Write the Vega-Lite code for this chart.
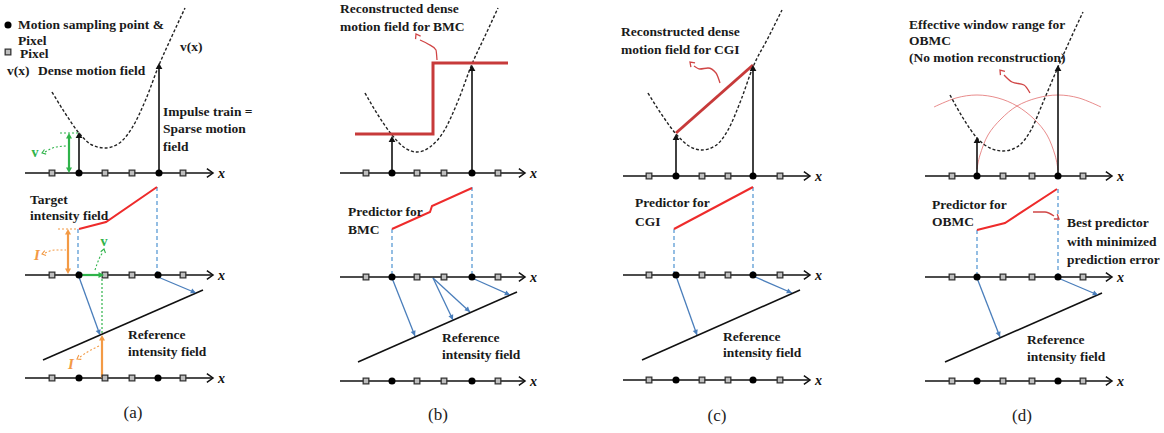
{
  "$schema": "https://vega.github.io/schema/vega-lite/v6.json",
  "width": 1164,
  "height": 433,
  "padding": 0,
  "autosize": {"type": "fit", "contains": "padding"},
  "background": "white",
  "config": {"view": {"stroke": null}},
  "datasets": {
    "curves": [
      {"panel": "a", "x": 52, "y": 92}, {"panel": "a", "x": 65, "y": 113}, {"panel": "a", "x": 79, "y": 133}, {"panel": "a", "x": 92, "y": 145}, {"panel": "a", "x": 105, "y": 148}, {"panel": "a", "x": 118, "y": 144}, {"panel": "a", "x": 132, "y": 128}, {"panel": "a", "x": 146, "y": 99}, {"panel": "a", "x": 159, "y": 65}, {"panel": "a", "x": 172, "y": 36}, {"panel": "a", "x": 185, "y": 8},
      {"panel": "b", "x": 365, "y": 93}, {"panel": "b", "x": 378, "y": 115}, {"panel": "b", "x": 392, "y": 135}, {"panel": "b", "x": 405, "y": 148}, {"panel": "b", "x": 417, "y": 152}, {"panel": "b", "x": 430, "y": 147}, {"panel": "b", "x": 444, "y": 131}, {"panel": "b", "x": 458, "y": 101}, {"panel": "b", "x": 472, "y": 64}, {"panel": "b", "x": 485, "y": 36}, {"panel": "b", "x": 498, "y": 8},
      {"panel": "c", "x": 648, "y": 93}, {"panel": "c", "x": 662, "y": 115}, {"panel": "c", "x": 676, "y": 134}, {"panel": "c", "x": 689, "y": 146}, {"panel": "c", "x": 702, "y": 150}, {"panel": "c", "x": 715, "y": 146}, {"panel": "c", "x": 728, "y": 130}, {"panel": "c", "x": 741, "y": 100}, {"panel": "c", "x": 753, "y": 67}, {"panel": "c", "x": 768, "y": 38}, {"panel": "c", "x": 782, "y": 10},
      {"panel": "d", "x": 950, "y": 95}, {"panel": "d", "x": 963, "y": 118}, {"panel": "d", "x": 977, "y": 138}, {"panel": "d", "x": 990, "y": 148}, {"panel": "d", "x": 1003, "y": 151}, {"panel": "d", "x": 1017, "y": 147}, {"panel": "d", "x": 1031, "y": 130}, {"panel": "d", "x": 1044, "y": 100}, {"panel": "d", "x": 1058, "y": 67}, {"panel": "d", "x": 1070, "y": 40}, {"panel": "d", "x": 1083, "y": 12}
    ],
    "arcs": [
      {"arc": "left", "x": 934, "y": 107}, {"arc": "left", "x": 956, "y": 98}, {"arc": "left", "x": 977, "y": 95}, {"arc": "left", "x": 998, "y": 98}, {"arc": "left", "x": 1017, "y": 106}, {"arc": "left", "x": 1034, "y": 119}, {"arc": "left", "x": 1047, "y": 135}, {"arc": "left", "x": 1055, "y": 155}, {"arc": "left", "x": 1058, "y": 170},
      {"arc": "right", "x": 977, "y": 169}, {"arc": "right", "x": 980, "y": 155}, {"arc": "right", "x": 988, "y": 135}, {"arc": "right", "x": 1001, "y": 119}, {"arc": "right", "x": 1017, "y": 106}, {"arc": "right", "x": 1037, "y": 98}, {"arc": "right", "x": 1058, "y": 95}, {"arc": "right", "x": 1079, "y": 98}, {"arc": "right", "x": 1101, "y": 107}
    ],
    "predictors": [
      {"panel": "a", "x": 79, "y": 229}, {"panel": "a", "x": 106, "y": 222}, {"panel": "a", "x": 157, "y": 187},
      {"panel": "b", "x": 392, "y": 229}, {"panel": "b", "x": 430, "y": 212}, {"panel": "b", "x": 432, "y": 206}, {"panel": "b", "x": 472, "y": 188},
      {"panel": "c", "x": 674, "y": 229}, {"panel": "c", "x": 753, "y": 187},
      {"panel": "d", "x": 977, "y": 230}, {"panel": "d", "x": 1005, "y": 223}, {"panel": "d", "x": 1057, "y": 189}
    ],
    "recon": [
      {"panel": "b", "x": 355, "y": 134}, {"panel": "b", "x": 433, "y": 134}, {"panel": "b", "x": 433, "y": 63}, {"panel": "b", "x": 508, "y": 63},
      {"panel": "c", "x": 676, "y": 133}, {"panel": "c", "x": 753, "y": 65}
    ],
    "segments": [
      {"kind": "axis", "x": 25, "y": 173, "x2": 213, "y2": 173}, {"kind": "axis", "x": 25, "y": 275, "x2": 213, "y2": 275}, {"kind": "axis", "x": 25, "y": 378, "x2": 213, "y2": 378},
      {"kind": "axis", "x": 340, "y": 173, "x2": 525, "y2": 173}, {"kind": "axis", "x": 340, "y": 277, "x2": 525, "y2": 277}, {"kind": "axis", "x": 340, "y": 381, "x2": 525, "y2": 381},
      {"kind": "axis", "x": 623, "y": 176, "x2": 810, "y2": 176}, {"kind": "axis", "x": 623, "y": 275, "x2": 810, "y2": 275}, {"kind": "axis", "x": 623, "y": 380, "x2": 810, "y2": 380},
      {"kind": "axis", "x": 925, "y": 176, "x2": 1112, "y2": 176}, {"kind": "axis", "x": 925, "y": 277, "x2": 1112, "y2": 277}, {"kind": "axis", "x": 925, "y": 381, "x2": 1112, "y2": 381},
      {"kind": "impulse", "x": 79, "y": 173, "x2": 79, "y2": 136}, {"kind": "impulse", "x": 159, "y": 173, "x2": 159, "y2": 67},
      {"kind": "impulse", "x": 392, "y": 173, "x2": 392, "y2": 140}, {"kind": "impulse", "x": 472, "y": 173, "x2": 472, "y2": 69},
      {"kind": "impulse", "x": 676, "y": 176, "x2": 676, "y2": 138}, {"kind": "impulse", "x": 753, "y": 176, "x2": 753, "y2": 69},
      {"kind": "impulse", "x": 977, "y": 176, "x2": 977, "y2": 141}, {"kind": "impulse", "x": 1058, "y": 176, "x2": 1058, "y2": 69},
      {"kind": "reference", "x": 43, "y": 360, "x2": 203, "y2": 290}, {"kind": "reference", "x": 358, "y": 362, "x2": 517, "y2": 292},
      {"kind": "reference", "x": 642, "y": 360, "x2": 800, "y2": 290}, {"kind": "reference", "x": 945, "y": 362, "x2": 1102, "y2": 293},
      {"kind": "projection", "x": 78, "y": 229, "x2": 78, "y2": 273}, {"kind": "projection", "x": 157, "y": 187, "x2": 157, "y2": 273},
      {"kind": "projection", "x": 392, "y": 229, "x2": 392, "y2": 275}, {"kind": "projection", "x": 472, "y": 187, "x2": 472, "y2": 275},
      {"kind": "projection", "x": 674, "y": 229, "x2": 674, "y2": 273}, {"kind": "projection", "x": 753, "y": 187, "x2": 753, "y2": 273},
      {"kind": "projection", "x": 977, "y": 230, "x2": 977, "y2": 275}, {"kind": "projection", "x": 1058, "y": 189, "x2": 1058, "y2": 275},
      {"kind": "warp", "x": 79, "y": 277, "x2": 100, "y2": 335}, {"kind": "warp", "x": 158, "y": 277, "x2": 196, "y2": 293},
      {"kind": "warp", "x": 392, "y": 278, "x2": 415, "y2": 336}, {"kind": "warp", "x": 433, "y": 278, "x2": 453, "y2": 320}, {"kind": "warp", "x": 433, "y": 278, "x2": 470, "y2": 312}, {"kind": "warp", "x": 472, "y": 278, "x2": 510, "y2": 295},
      {"kind": "warp", "x": 676, "y": 276, "x2": 697, "y2": 335}, {"kind": "warp", "x": 753, "y": 276, "x2": 792, "y2": 293},
      {"kind": "warp", "x": 977, "y": 278, "x2": 1000, "y2": 337}, {"kind": "warp", "x": 1058, "y": 278, "x2": 1098, "y2": 295},
      {"kind": "motion", "x": 69, "y": 136, "x2": 69, "y2": 170}, {"kind": "motion", "x": 79, "y": 275, "x2": 100, "y2": 275},
      {"kind": "motion-guide", "x": 60, "y": 133, "x2": 78, "y2": 133}, {"kind": "motion-guide", "x": 102, "y": 279, "x2": 102, "y2": 333},
      {"kind": "intensity", "x": 68, "y": 232, "x2": 68, "y2": 271}, {"kind": "intensity", "x": 102, "y": 378, "x2": 102, "y2": 339},
      {"kind": "intensity-guide", "x": 58, "y": 229, "x2": 77, "y2": 229}
    ],
    "callouts": [
      {"id": "nb", "kind": "note", "x": 420, "y": 40}, {"id": "nb", "kind": "note", "x": 428, "y": 44}, {"id": "nb", "kind": "note", "x": 436, "y": 50}, {"id": "nb", "kind": "note", "x": 437, "y": 60},
      {"id": "nc", "kind": "note", "x": 694, "y": 66}, {"id": "nc", "kind": "note", "x": 700, "y": 69}, {"id": "nc", "kind": "note", "x": 708, "y": 68}, {"id": "nc", "kind": "note", "x": 716, "y": 73}, {"id": "nc", "kind": "note", "x": 720, "y": 83},
      {"id": "nd1", "kind": "note", "x": 1004, "y": 75}, {"id": "nd1", "kind": "note", "x": 1012, "y": 82}, {"id": "nd1", "kind": "note", "x": 1024, "y": 85}, {"id": "nd1", "kind": "note", "x": 1030, "y": 93},
      {"id": "nd2", "kind": "note", "x": 1033, "y": 212}, {"id": "nd2", "kind": "note", "x": 1045, "y": 212}, {"id": "nd2", "kind": "note", "x": 1054, "y": 216},
      {"id": "g1", "kind": "motion-note", "x": 45, "y": 152}, {"id": "g1", "kind": "motion-note", "x": 56, "y": 147}, {"id": "g1", "kind": "motion-note", "x": 67, "y": 146},
      {"id": "g2", "kind": "motion-note", "x": 95, "y": 270}, {"id": "g2", "kind": "motion-note", "x": 99, "y": 259}, {"id": "g2", "kind": "motion-note", "x": 103, "y": 252},
      {"id": "o1", "kind": "intensity-note", "x": 45, "y": 253}, {"id": "o1", "kind": "intensity-note", "x": 55, "y": 250}, {"id": "o1", "kind": "intensity-note", "x": 66, "y": 250},
      {"id": "o2", "kind": "intensity-note", "x": 80, "y": 357}, {"id": "o2", "kind": "intensity-note", "x": 89, "y": 351}, {"id": "o2", "kind": "intensity-note", "x": 99, "y": 346}
    ],
    "heads": [
      {"kind": "axis", "x": 213, "y": 173, "deg": 0}, {"kind": "axis", "x": 213, "y": 275, "deg": 0}, {"kind": "axis", "x": 213, "y": 378, "deg": 0},
      {"kind": "axis", "x": 525, "y": 173, "deg": 0}, {"kind": "axis", "x": 525, "y": 277, "deg": 0}, {"kind": "axis", "x": 525, "y": 381, "deg": 0},
      {"kind": "axis", "x": 810, "y": 176, "deg": 0}, {"kind": "axis", "x": 810, "y": 275, "deg": 0}, {"kind": "axis", "x": 810, "y": 380, "deg": 0},
      {"kind": "axis", "x": 1112, "y": 176, "deg": 0}, {"kind": "axis", "x": 1112, "y": 277, "deg": 0}, {"kind": "axis", "x": 1112, "y": 381, "deg": 0},
      {"kind": "impulse", "x": 79, "y": 132, "deg": -90}, {"kind": "impulse", "x": 159, "y": 63, "deg": -90},
      {"kind": "impulse", "x": 392, "y": 136, "deg": -90}, {"kind": "impulse", "x": 472, "y": 65, "deg": -90},
      {"kind": "impulse", "x": 676, "y": 134, "deg": -90}, {"kind": "impulse", "x": 753, "y": 65, "deg": -90},
      {"kind": "impulse", "x": 977, "y": 137, "deg": -90}, {"kind": "impulse", "x": 1058, "y": 65, "deg": -90},
      {"kind": "warp", "x": 100, "y": 335, "deg": 69.5}, {"kind": "warp", "x": 196, "y": 293, "deg": 23.6},
      {"kind": "warp", "x": 415, "y": 336, "deg": 68.7}, {"kind": "warp", "x": 453, "y": 320, "deg": 65.1}, {"kind": "warp", "x": 470, "y": 312, "deg": 43.4}, {"kind": "warp", "x": 510, "y": 295, "deg": 25.3},
      {"kind": "warp", "x": 697, "y": 335, "deg": 70.4}, {"kind": "warp", "x": 792, "y": 293, "deg": 23.6},
      {"kind": "warp", "x": 1000, "y": 337, "deg": 68.7}, {"kind": "warp", "x": 1098, "y": 295, "deg": 23},
      {"kind": "motion", "x": 69, "y": 133, "deg": -90}, {"kind": "motion", "x": 69, "y": 173, "deg": 90}, {"kind": "motion", "x": 104, "y": 275, "deg": 0},
      {"kind": "intensity", "x": 68, "y": 229, "deg": -90}, {"kind": "intensity", "x": 68, "y": 274, "deg": 90}, {"kind": "intensity", "x": 102, "y": 335, "deg": -90},
      {"kind": "motion-note", "x": 42, "y": 153, "deg": 160}, {"kind": "motion-note", "x": 104, "y": 249, "deg": -75},
      {"kind": "intensity-note", "x": 42, "y": 254, "deg": 165}, {"kind": "intensity-note", "x": 77, "y": 359, "deg": 150},
      {"kind": "note", "x": 416, "y": 34, "deg": -120}, {"kind": "note", "x": 690, "y": 62, "deg": -135}, {"kind": "note", "x": 1000, "y": 70, "deg": -130}, {"kind": "note", "x": 1059, "y": 219, "deg": 35}
    ],
    "samples": [
      {"kind": "motion sample", "x": 8, "y": 25}, {"kind": "pixel", "x": 8, "y": 52},
      {"kind": "pixel", "x": 52, "y": 173}, {"kind": "pixel", "x": 105, "y": 173}, {"kind": "pixel", "x": 132, "y": 173}, {"kind": "pixel", "x": 183, "y": 173}, {"kind": "motion sample", "x": 79, "y": 173}, {"kind": "motion sample", "x": 159, "y": 173},
      {"kind": "pixel", "x": 52, "y": 275}, {"kind": "pixel", "x": 105, "y": 275}, {"kind": "pixel", "x": 132, "y": 275}, {"kind": "pixel", "x": 183, "y": 275}, {"kind": "motion sample", "x": 79, "y": 275}, {"kind": "motion sample", "x": 158, "y": 275},
      {"kind": "pixel", "x": 52, "y": 378}, {"kind": "pixel", "x": 105, "y": 378}, {"kind": "pixel", "x": 132, "y": 378}, {"kind": "pixel", "x": 183, "y": 378}, {"kind": "motion sample", "x": 79, "y": 378}, {"kind": "motion sample", "x": 158, "y": 378},
      {"kind": "pixel", "x": 366, "y": 173}, {"kind": "pixel", "x": 417, "y": 173}, {"kind": "pixel", "x": 444, "y": 173}, {"kind": "pixel", "x": 498, "y": 173}, {"kind": "motion sample", "x": 392, "y": 173}, {"kind": "motion sample", "x": 472, "y": 173},
      {"kind": "pixel", "x": 366, "y": 277}, {"kind": "pixel", "x": 417, "y": 277}, {"kind": "pixel", "x": 444, "y": 277}, {"kind": "pixel", "x": 498, "y": 277}, {"kind": "motion sample", "x": 392, "y": 277}, {"kind": "motion sample", "x": 472, "y": 277},
      {"kind": "pixel", "x": 366, "y": 381}, {"kind": "pixel", "x": 417, "y": 381}, {"kind": "pixel", "x": 444, "y": 381}, {"kind": "pixel", "x": 498, "y": 381}, {"kind": "motion sample", "x": 392, "y": 381}, {"kind": "motion sample", "x": 472, "y": 381},
      {"kind": "pixel", "x": 649, "y": 176}, {"kind": "pixel", "x": 702, "y": 176}, {"kind": "pixel", "x": 728, "y": 176}, {"kind": "pixel", "x": 780, "y": 176}, {"kind": "motion sample", "x": 676, "y": 176}, {"kind": "motion sample", "x": 753, "y": 176},
      {"kind": "pixel", "x": 649, "y": 275}, {"kind": "pixel", "x": 702, "y": 275}, {"kind": "pixel", "x": 728, "y": 275}, {"kind": "pixel", "x": 780, "y": 275}, {"kind": "motion sample", "x": 676, "y": 275}, {"kind": "motion sample", "x": 753, "y": 275},
      {"kind": "pixel", "x": 649, "y": 380}, {"kind": "pixel", "x": 702, "y": 380}, {"kind": "pixel", "x": 728, "y": 380}, {"kind": "pixel", "x": 780, "y": 380}, {"kind": "motion sample", "x": 676, "y": 380}, {"kind": "motion sample", "x": 753, "y": 380},
      {"kind": "pixel", "x": 952, "y": 176}, {"kind": "pixel", "x": 1003, "y": 176}, {"kind": "pixel", "x": 1032, "y": 176}, {"kind": "pixel", "x": 1083, "y": 176}, {"kind": "motion sample", "x": 977, "y": 176}, {"kind": "motion sample", "x": 1058, "y": 176},
      {"kind": "pixel", "x": 952, "y": 277}, {"kind": "pixel", "x": 1003, "y": 277}, {"kind": "pixel", "x": 1032, "y": 277}, {"kind": "pixel", "x": 1083, "y": 277}, {"kind": "motion sample", "x": 977, "y": 277}, {"kind": "motion sample", "x": 1058, "y": 277},
      {"kind": "pixel", "x": 952, "y": 381}, {"kind": "pixel", "x": 1003, "y": 381}, {"kind": "pixel", "x": 1032, "y": 381}, {"kind": "pixel", "x": 1083, "y": 381}, {"kind": "motion sample", "x": 977, "y": 381}, {"kind": "motion sample", "x": 1058, "y": 381}
    ],
    "labels": [
      {"kind": "note", "x": 18, "y": 25, "text": "Motion sampling point &"},
      {"kind": "note", "x": 18, "y": 41, "text": "Pixel"},
      {"kind": "note", "x": 20, "y": 54, "text": "Pixel"},
      {"kind": "note", "x": 7, "y": 71, "text": "v(x)"},
      {"kind": "note", "x": 38, "y": 71, "text": "Dense motion field"},
      {"kind": "note", "x": 180, "y": 47, "text": "v(x)"},
      {"kind": "note", "x": 163, "y": 112, "text": "Impulse train ="},
      {"kind": "note", "x": 163, "y": 129, "text": "Sparse motion"},
      {"kind": "note", "x": 163, "y": 147, "text": "field"},
      {"kind": "note", "x": 30, "y": 200, "text": "Target"},
      {"kind": "note", "x": 30, "y": 216, "text": "intensity field"},
      {"kind": "note", "x": 128, "y": 335, "text": "Reference"},
      {"kind": "note", "x": 128, "y": 352, "text": "intensity field"},
      {"kind": "note", "x": 340, "y": 9, "text": "Reconstructed dense"},
      {"kind": "note", "x": 340, "y": 27, "text": "motion field for BMC"},
      {"kind": "note", "x": 348, "y": 212, "text": "Predictor for"},
      {"kind": "note", "x": 348, "y": 230, "text": "BMC"},
      {"kind": "note", "x": 442, "y": 338, "text": "Reference"},
      {"kind": "note", "x": 442, "y": 355, "text": "intensity field"},
      {"kind": "note", "x": 621, "y": 32, "text": "Reconstructed dense"},
      {"kind": "note", "x": 621, "y": 50, "text": "motion field for CGI"},
      {"kind": "note", "x": 635, "y": 203, "text": "Predictor for"},
      {"kind": "note", "x": 635, "y": 222, "text": "CGI"},
      {"kind": "note", "x": 723, "y": 337, "text": "Reference"},
      {"kind": "note", "x": 723, "y": 353, "text": "intensity field"},
      {"kind": "note", "x": 909, "y": 25, "text": "Effective window range for"},
      {"kind": "note", "x": 909, "y": 41, "text": "OBMC"},
      {"kind": "note", "x": 909, "y": 58, "text": "(No motion reconstruction)"},
      {"kind": "note", "x": 932, "y": 205, "text": "Predictor for"},
      {"kind": "note", "x": 932, "y": 222, "text": "OBMC"},
      {"kind": "note", "x": 1067, "y": 223, "text": "Best predictor"},
      {"kind": "note", "x": 1067, "y": 242, "text": "with minimized"},
      {"kind": "note", "x": 1067, "y": 260, "text": "prediction error"},
      {"kind": "note", "x": 1027, "y": 340, "text": "Reference"},
      {"kind": "note", "x": 1027, "y": 357, "text": "intensity field"},
      {"kind": "axis", "x": 218, "y": 174, "text": "x"}, {"kind": "axis", "x": 218, "y": 276, "text": "x"}, {"kind": "axis", "x": 218, "y": 379, "text": "x"},
      {"kind": "axis", "x": 530, "y": 174, "text": "x"}, {"kind": "axis", "x": 530, "y": 278, "text": "x"}, {"kind": "axis", "x": 530, "y": 382, "text": "x"},
      {"kind": "axis", "x": 815, "y": 177, "text": "x"}, {"kind": "axis", "x": 815, "y": 276, "text": "x"}, {"kind": "axis", "x": 815, "y": 381, "text": "x"},
      {"kind": "axis", "x": 1117, "y": 177, "text": "x"}, {"kind": "axis", "x": 1117, "y": 278, "text": "x"}, {"kind": "axis", "x": 1117, "y": 382, "text": "x"},
      {"kind": "motion", "x": 35, "y": 153, "text": "v"}, {"kind": "motion", "x": 104, "y": 242, "text": "v"},
      {"kind": "intensity", "x": 37, "y": 255, "text": "I"}, {"kind": "intensity", "x": 71, "y": 364, "text": "I"},
      {"kind": "caption", "x": 133, "y": 413, "text": "(a)"},
      {"kind": "caption", "x": 438, "y": 415, "text": "(b)"},
      {"kind": "caption", "x": 717, "y": 416, "text": "(c)"},
      {"kind": "caption", "x": 1022, "y": 416, "text": "(d)"}
    ]
  },
  "encoding": {
    "x": {"field": "x", "type": "quantitative", "scale": {"domain": [0, 1164], "nice": false, "zero": false}, "axis": null},
    "y": {"field": "y", "type": "quantitative", "scale": {"domain": [0, 433], "nice": false, "zero": false, "reverse": true}, "axis": null}
  },
  "layer": [
    {
      "data": {"name": "arcs"},
      "mark": {"type": "line", "interpolate": "cardinal", "color": "#e06666", "strokeWidth": 1, "opacity": 0.75},
      "encoding": {"detail": {"field": "arc"}}
    },
    {
      "data": {"name": "curves"},
      "mark": {"type": "line", "interpolate": "monotone", "color": "#222", "strokeWidth": 1.4, "strokeDash": [3, 2]},
      "encoding": {"detail": {"field": "panel"}}
    },
    {
      "data": {"name": "segments"},
      "transform": [{"filter": "datum.kind === 'projection'"}],
      "mark": {"type": "rule", "color": "#5b9bd5", "strokeWidth": 1.3, "strokeDash": [4, 3]},
      "encoding": {"x2": {"field": "x2"}, "y2": {"field": "y2"}}
    },
    {
      "data": {"name": "segments"},
      "transform": [{"filter": "datum.kind === 'warp'"}],
      "mark": {"type": "rule", "color": "#4a7ebb", "strokeWidth": 1.3},
      "encoding": {"x2": {"field": "x2"}, "y2": {"field": "y2"}}
    },
    {
      "data": {"name": "segments"},
      "transform": [{"filter": "datum.kind === 'axis' || datum.kind === 'impulse' || datum.kind === 'reference'"}],
      "mark": {"type": "rule", "color": "#111", "strokeWidth": 1.6},
      "encoding": {"x2": {"field": "x2"}, "y2": {"field": "y2"}}
    },
    {
      "data": {"name": "segments"},
      "transform": [{"filter": "datum.kind === 'motion'"}],
      "mark": {"type": "rule", "color": "#2fb34a", "strokeWidth": 2.2},
      "encoding": {"x2": {"field": "x2"}, "y2": {"field": "y2"}}
    },
    {
      "data": {"name": "segments"},
      "transform": [{"filter": "datum.kind === 'motion-guide'"}],
      "mark": {"type": "rule", "color": "#2fb34a", "strokeWidth": 1.2, "strokeDash": [2, 2]},
      "encoding": {"x2": {"field": "x2"}, "y2": {"field": "y2"}}
    },
    {
      "data": {"name": "segments"},
      "transform": [{"filter": "datum.kind === 'intensity'"}],
      "mark": {"type": "rule", "color": "#f39a45", "strokeWidth": 2.2},
      "encoding": {"x2": {"field": "x2"}, "y2": {"field": "y2"}}
    },
    {
      "data": {"name": "segments"},
      "transform": [{"filter": "datum.kind === 'intensity-guide'"}],
      "mark": {"type": "rule", "color": "#f39a45", "strokeWidth": 1.2, "strokeDash": [2, 2]},
      "encoding": {"x2": {"field": "x2"}, "y2": {"field": "y2"}}
    },
    {
      "data": {"name": "predictors"},
      "mark": {"type": "line", "color": "#ee2b2b", "strokeWidth": 2},
      "encoding": {"detail": {"field": "panel"}}
    },
    {
      "data": {"name": "recon"},
      "mark": {"type": "line", "color": "#c73a3a", "strokeWidth": 3},
      "encoding": {"detail": {"field": "panel"}}
    },
    {
      "data": {"name": "callouts"},
      "transform": [{"filter": "datum.kind === 'note'"}],
      "mark": {"type": "line", "interpolate": "monotone", "color": "#d04545", "strokeWidth": 1.3},
      "encoding": {"detail": {"field": "id"}}
    },
    {
      "data": {"name": "callouts"},
      "transform": [{"filter": "datum.kind === 'motion-note'"}],
      "mark": {"type": "line", "interpolate": "monotone", "color": "#2fb34a", "strokeWidth": 1.1, "strokeDash": [2, 2]},
      "encoding": {"detail": {"field": "id"}}
    },
    {
      "data": {"name": "callouts"},
      "transform": [{"filter": "datum.kind === 'intensity-note'"}],
      "mark": {"type": "line", "interpolate": "monotone", "color": "#f39a45", "strokeWidth": 1.1, "strokeDash": [2, 2]},
      "encoding": {"detail": {"field": "id"}}
    },
    {
      "data": {"name": "samples"},
      "transform": [{"filter": "datum.kind === 'pixel'"}],
      "mark": {"type": "point", "shape": "square", "filled": true, "fill": "#bdbdbd", "stroke": "#333", "strokeWidth": 1.3, "size": 32, "opacity": 1}
    },
    {
      "data": {"name": "samples"},
      "transform": [{"filter": "datum.kind === 'motion sample'"}],
      "mark": {"type": "point", "shape": "circle", "filled": true, "color": "#000", "size": 50, "opacity": 1}
    },
    {
      "data": {"name": "heads"},
      "transform": [{"filter": "datum.kind === 'axis'"}],
      "mark": {"type": "point", "shape": "M-1,-0.7L0,0L-1,0.7", "filled": false, "stroke": "#111", "strokeWidth": 1.5, "size": 150, "opacity": 1},
      "encoding": {"angle": {"field": "deg", "type": "quantitative", "scale": null}}
    },
    {
      "data": {"name": "heads"},
      "transform": [{"filter": "datum.kind === 'impulse'"}],
      "mark": {"type": "point", "shape": "M0,0L-1,-0.55L-1,0.55Z", "filled": true, "color": "#111", "size": 150, "opacity": 1},
      "encoding": {"angle": {"field": "deg", "type": "quantitative", "scale": null}}
    },
    {
      "data": {"name": "heads"},
      "transform": [{"filter": "datum.kind === 'warp'"}],
      "mark": {"type": "point", "shape": "M0,0L-1,-0.5L-1,0.5Z", "filled": true, "color": "#4a7ebb", "size": 110, "opacity": 1},
      "encoding": {"angle": {"field": "deg", "type": "quantitative", "scale": null}}
    },
    {
      "data": {"name": "heads"},
      "transform": [{"filter": "datum.kind === 'motion'"}],
      "mark": {"type": "point", "shape": "M0,0L-1,-0.55L-1,0.55Z", "filled": true, "color": "#2fb34a", "size": 120, "opacity": 1},
      "encoding": {"angle": {"field": "deg", "type": "quantitative", "scale": null}}
    },
    {
      "data": {"name": "heads"},
      "transform": [{"filter": "datum.kind === 'intensity'"}],
      "mark": {"type": "point", "shape": "M0,0L-1,-0.55L-1,0.55Z", "filled": true, "color": "#f39a45", "size": 120, "opacity": 1},
      "encoding": {"angle": {"field": "deg", "type": "quantitative", "scale": null}}
    },
    {
      "data": {"name": "heads"},
      "transform": [{"filter": "datum.kind === 'motion-note'"}],
      "mark": {"type": "point", "shape": "M-1,-0.7L0,0L-1,0.7", "filled": false, "stroke": "#2fb34a", "strokeWidth": 1.1, "size": 50, "opacity": 1},
      "encoding": {"angle": {"field": "deg", "type": "quantitative", "scale": null}}
    },
    {
      "data": {"name": "heads"},
      "transform": [{"filter": "datum.kind === 'intensity-note'"}],
      "mark": {"type": "point", "shape": "M-1,-0.7L0,0L-1,0.7", "filled": false, "stroke": "#f39a45", "strokeWidth": 1.1, "size": 50, "opacity": 1},
      "encoding": {"angle": {"field": "deg", "type": "quantitative", "scale": null}}
    },
    {
      "data": {"name": "heads"},
      "transform": [{"filter": "datum.kind === 'note'"}],
      "mark": {"type": "point", "shape": "M-1,-0.7L0,0L-1,0.7", "filled": false, "stroke": "#d04545", "strokeWidth": 1.3, "size": 70, "opacity": 1},
      "encoding": {"angle": {"field": "deg", "type": "quantitative", "scale": null}}
    },
    {
      "data": {"name": "labels"},
      "transform": [{"filter": "datum.kind === 'note'"}],
      "mark": {"type": "text", "font": "Liberation Serif, DejaVu Serif, serif", "fontSize": 13.5, "fontWeight": "bold", "align": "left", "baseline": "middle", "color": "#1a1a1a"},
      "encoding": {"text": {"field": "text"}}
    },
    {
      "data": {"name": "labels"},
      "transform": [{"filter": "datum.kind === 'axis'"}],
      "mark": {"type": "text", "font": "Liberation Serif, DejaVu Serif, serif", "fontSize": 14, "fontStyle": "italic", "fontWeight": "bold", "align": "left", "baseline": "middle", "color": "#111"},
      "encoding": {"text": {"field": "text"}}
    },
    {
      "data": {"name": "labels"},
      "transform": [{"filter": "datum.kind === 'motion'"}],
      "mark": {"type": "text", "font": "Liberation Serif, DejaVu Serif, serif", "fontSize": 14, "fontWeight": "bold", "align": "center", "baseline": "middle", "color": "#2fb34a"},
      "encoding": {"text": {"field": "text"}}
    },
    {
      "data": {"name": "labels"},
      "transform": [{"filter": "datum.kind === 'intensity'"}],
      "mark": {"type": "text", "font": "Liberation Serif, DejaVu Serif, serif", "fontSize": 15, "fontWeight": "bold", "fontStyle": "italic", "align": "center", "baseline": "middle", "color": "#f39a45"},
      "encoding": {"text": {"field": "text"}}
    },
    {
      "data": {"name": "labels"},
      "transform": [{"filter": "datum.kind === 'caption'"}],
      "mark": {"type": "text", "font": "Liberation Serif, DejaVu Serif, serif", "fontSize": 17, "align": "center", "baseline": "middle", "color": "#222"},
      "encoding": {"text": {"field": "text"}}
    }
  ]
}
